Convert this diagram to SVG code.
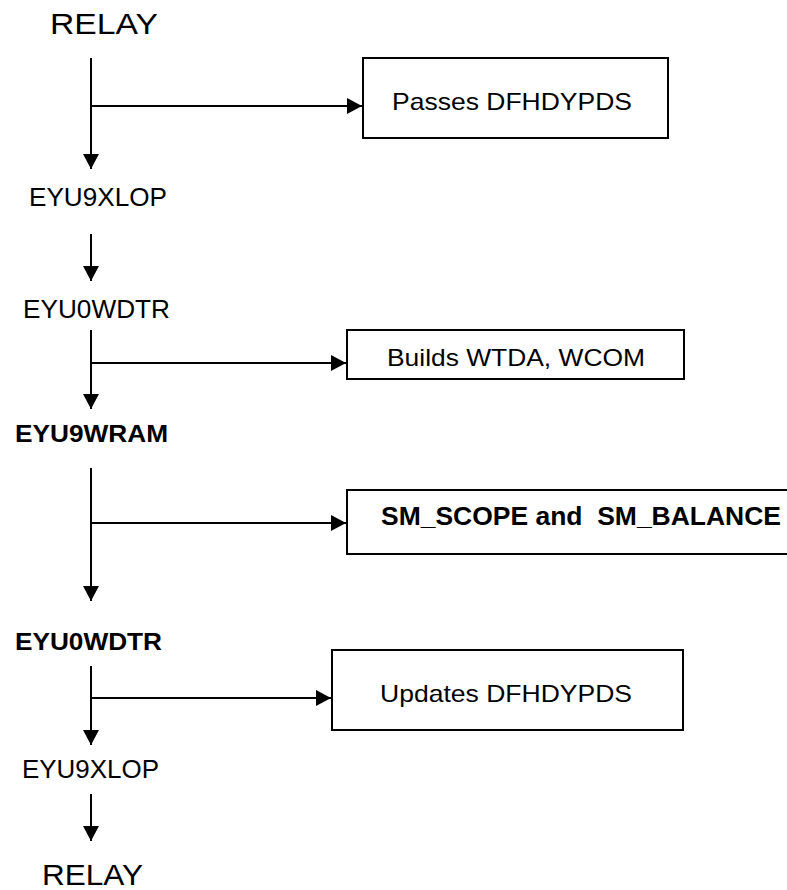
<svg xmlns="http://www.w3.org/2000/svg" width="787" height="890" viewBox="0 0 787 890">
<style>
text{font-family:"Liberation Sans",Arial,sans-serif;fill:#000;white-space:pre}
.b{font-weight:bold}
.box{fill:#fff;stroke:#000;stroke-width:2}
.ln{stroke:#000;stroke-width:2;fill:none}
</style>
<defs>
<marker id="ah" markerUnits="userSpaceOnUse" markerWidth="16" markerHeight="16" viewBox="0 0 16 16" refX="15" refY="8" orient="auto">
<path d="M0,0 L15,8 L0,16 Z" fill="#000"/>
</marker>
</defs>
<rect width="787" height="890" fill="#fff"/>
<g id="relay-top"><text x="50" y="34" font-size="30" textLength="108" lengthAdjust="spacingAndGlyphs">RELAY</text></g>
<g id="eyu9xlop-1"><text x="29" y="206" font-size="25" textLength="138" lengthAdjust="spacingAndGlyphs">EYU9XLOP</text></g>
<g id="eyu0wdtr-1"><text x="23" y="318" font-size="25" textLength="147" lengthAdjust="spacingAndGlyphs">EYU0WDTR</text></g>
<g id="eyu9wram"><text class="b" x="15" y="442" font-size="24" textLength="153" lengthAdjust="spacingAndGlyphs">EYU9WRAM</text></g>
<g id="eyu0wdtr-2"><text class="b" x="15" y="650" font-size="24" textLength="147" lengthAdjust="spacingAndGlyphs">EYU0WDTR</text></g>
<g id="eyu9xlop-2"><text x="22" y="778" font-size="25" textLength="137" lengthAdjust="spacingAndGlyphs">EYU9XLOP</text></g>
<g id="relay-bottom"><text x="42" y="885" font-size="29" textLength="101" lengthAdjust="spacingAndGlyphs">RELAY</text></g>
<g id="box-passes"><rect class="box" x="363" y="58" width="305" height="80"/><text x="392" y="110" font-size="24" textLength="240" lengthAdjust="spacingAndGlyphs">Passes DFHDYPDS</text></g>
<g id="box-builds"><rect class="box" x="347" y="330" width="337" height="49"/><text x="387" y="366" font-size="24" textLength="258" lengthAdjust="spacingAndGlyphs">Builds WTDA, WCOM</text></g>
<g id="box-sm"><rect class="box" x="347" y="490" width="460" height="64"/><text class="b" x="381" y="525" font-size="25" textLength="400" lengthAdjust="spacingAndGlyphs">SM_SCOPE and  SM_BALANCE</text></g>
<g id="box-updates"><rect class="box" x="332" y="650" width="351" height="80"/><text x="380" y="702" font-size="24" textLength="252" lengthAdjust="spacingAndGlyphs">Updates DFHDYPDS</text></g>
<g id="connectors">
<line class="ln" x1="91" y1="58" x2="91" y2="169" marker-end="url(#ah)"/>
<line class="ln" x1="91" y1="106" x2="362" y2="106" marker-end="url(#ah)"/>
<line class="ln" x1="91" y1="234" x2="91" y2="281" marker-end="url(#ah)"/>
<line class="ln" x1="91" y1="330" x2="91" y2="409" marker-end="url(#ah)"/>
<line class="ln" x1="91" y1="363" x2="346" y2="363" marker-end="url(#ah)"/>
<line class="ln" x1="91" y1="468" x2="91" y2="601" marker-end="url(#ah)"/>
<line class="ln" x1="91" y1="523" x2="346" y2="523" marker-end="url(#ah)"/>
<line class="ln" x1="91" y1="666" x2="91" y2="745" marker-end="url(#ah)"/>
<line class="ln" x1="91" y1="698" x2="331" y2="698" marker-end="url(#ah)"/>
<line class="ln" x1="91" y1="794" x2="91" y2="841" marker-end="url(#ah)"/>
</g>
</svg>
